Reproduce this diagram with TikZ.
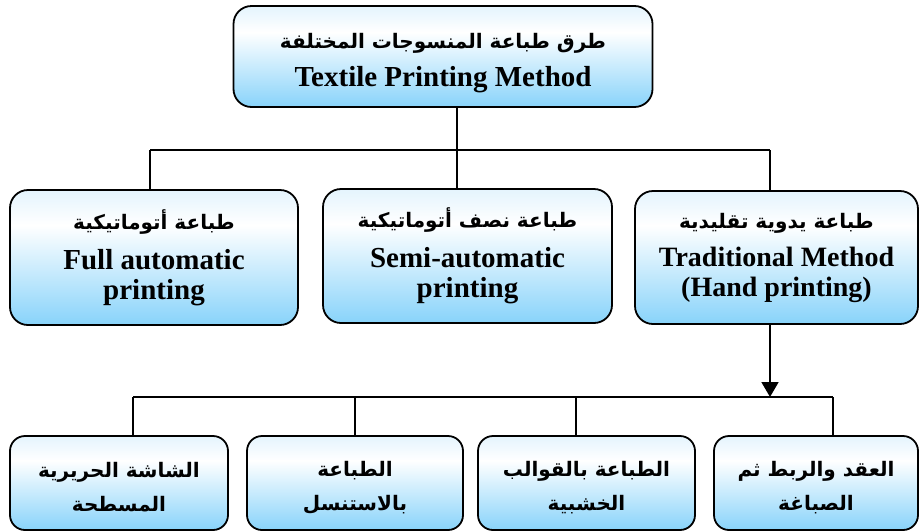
\documentclass[tikz,border=0pt]{standalone}
\usepackage{fontspec}
\setmainfont{Liberation Serif}
\newfontfamily\arabicfont[Script=Arabic]{DejaVu Sans}
\TeXXeTstate=1
\usetikzlibrary{arrows.meta}
\definecolor{filltop}{RGB}{228,244,253}
\definecolor{fillbot}{RGB}{136,211,250}
\pgfdeclareverticalshading{boxfill}{100bp}{color(0bp)=(fillbot); color(25bp)=(fillbot); color(62bp)=(white); color(75bp)=(filltop); color(100bp)=(filltop)}
% Arabic line in bold, right to left
\newcommand{\ar}[1]{{\arabicfont\bfseries\fontsize{20}{30}\selectfont\beginR #1\endR}}
\tikzset{
  box/.style={draw=black, line width=1.8pt, rounded corners=18pt, shading=boxfill,
    align=center, inner sep=0pt, font=\fontsize{29}{30}\selectfont\bfseries},
  leaf/.style={box, rounded corners=15pt, minimum height=94pt,
    font=\fontsize{19.5}{34}\selectfont\bfseries},
  link/.style={line width=1.8pt, draw=black}
}
\begin{document}
\begin{tikzpicture}[x=1pt,y=-1pt]
\useasboundingbox (0,0) rectangle (920,531);

% root
\node[box, minimum width=419pt, minimum height=101pt] (root) at (443,56.5)
  {\rule{0pt}{28pt}\ar{طرق طباعة المنسوجات المختلفة}\\[8pt]
   Textile Printing Method};

% second level
\node[box, minimum width=288pt, minimum height=135pt] (full) at (154,257.5)
  {\ar{طباعة أتوماتيكية}\\[10pt]
   Full automatic\\ printing};
\node[box, minimum width=289pt, minimum height=134pt] (semi) at (467.5,256)
  {\ar{طباعة نصف أتوماتيكية}\\[10pt]
   Semi-automatic\\ printing};
\node[box, minimum width=283pt, minimum height=133pt,
      font=\fontsize{28}{30}\selectfont\bfseries] (trad) at (776.5,257.5)
  {\ar{طباعة يدوية تقليدية}\\[8pt]
   Traditional Method\\ (Hand printing)};

% hand-printing techniques
\node[leaf, minimum width=218pt] (silk) at (119,483)
  {\rule{0pt}{24pt}\ar{الشاشة الحريرية}\\ \ar{المسطحة}};
\node[leaf, minimum width=216pt] (sten) at (355,483)
  {\rule{0pt}{24pt}\ar{الطباعة}\\ \ar{بالاستنسل}};
\node[leaf, minimum width=217pt] (wood) at (586.5,483)
  {\rule{0pt}{24pt}\ar{الطباعة بالقوالب}\\ \ar{الخشبية}};
\node[leaf, minimum width=204pt] (tie) at (816,483)
  {\rule{0pt}{24pt}\ar{العقد والربط ثم}\\ \ar{الصباغة}};

% root to second level
\coordinate (busL) at (150,150);
\coordinate (busM) at (457,150);
\coordinate (busR) at (770,150);
\draw[link] (root.south -| busM) -- (busM);
\draw[link] (busL) -- (busR);
\draw[link] (busL) -- (full.north -| busL);
\draw[link] (busM) -- (semi.north -| busM);
\draw[link] (busR) -- (trad.north -| busR);

% traditional method to techniques
\coordinate (tip) at (770,397);
\coordinate (b1) at (133,397);
\coordinate (b2) at (355,397);
\coordinate (b3) at (576,397);
\coordinate (b4) at (833,397);
\draw[link, -{Triangle[width=17pt,length=15pt]}] (trad.south -| tip) -- (tip);
\draw[link] (b1) -- (b4);
\draw[link] (b1) -- (silk.north -| b1);
\draw[link] (b2) -- (sten.north -| b2);
\draw[link] (b3) -- (wood.north -| b3);
\draw[link] (b4) -- (tie.north -| b4);
\end{tikzpicture}
\end{document}
